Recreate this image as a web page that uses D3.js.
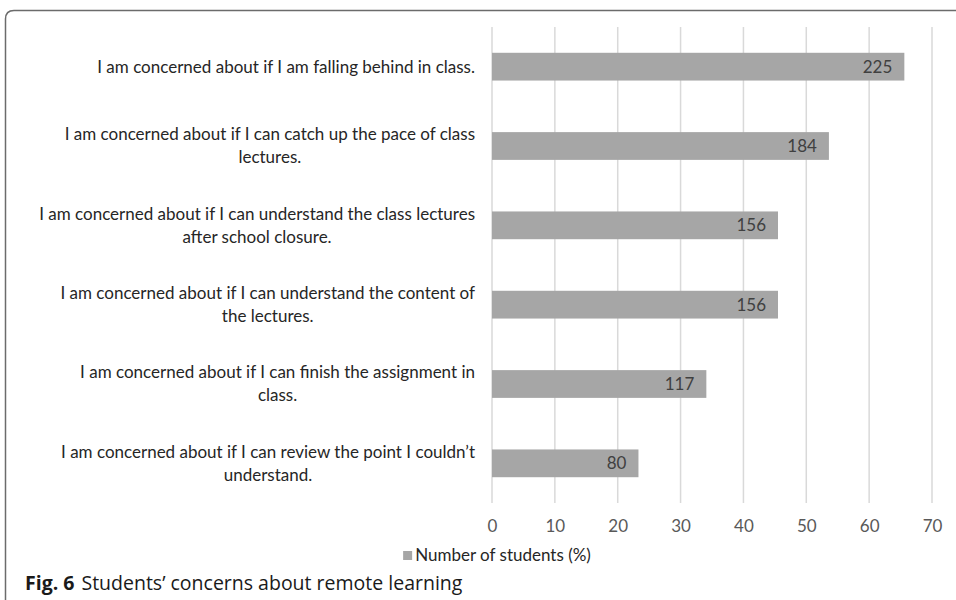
<!DOCTYPE html>
<html>
<head>
<meta charset="utf-8">
<script src="https://cdn.jsdelivr.net/npm/d3@7"></script>
<style>
  body { margin: 0; background: #fff; }
  svg { display: block; }
  .cat, .tick-label, .value-label, .legend-text { font-family: Lato, "Open Sans", sans-serif; }
</style>
</head>
<body>
<div class="chart"></div>
<script>
// wrapped category labels, top to bottom
const categories = [
  ['I am concerned about if I am falling behind in class.'],
  ['I am concerned about if I can catch up the pace of class', 'lectures.'],
  ['I am concerned about if I can understand the class lectures', 'after school closure.'],
  ['I am concerned about if I can understand the content of', 'the lectures.'],
  ['I am concerned about if I can finish the assignment in', 'class.'],
  ['I am concerned about if I can review the point I couldn\u2019t', 'understand.']
];
const counts = [225, 184, 156, 156, 117, 80];
const percents = [65.6, 53.6, 45.5, 45.5, 34.1, 23.3];
const xTicks = [0, 10, 20, 30, 40, 50, 60, 70];
const legendLabel = 'Number of students (%)';
const captionBold = 'Fig. 6';
const captionText = 'Students\u2019 concerns about remote learning';

const width = 956;
const height = 600;
const plot = {left: 492, right: 932, top: 27, bottom: 503};
const fontSize = 17;

const rows = categories.map((lines, i) => ({
  key: lines.join(' '),
  lines: lines,
  count: counts[i],
  pct: percents[i]
}));

const x = d3.scaleLinear()
  .domain([0, 70])
  .range([plot.left, plot.right]);

const y = d3.scaleBand()
  .domain(rows.map(d => d.key))
  .range([plot.top, plot.bottom])
  .paddingInner(0.65)
  .paddingOuter(0.325);

const svg = d3.select('.chart').append('svg')
  .attr('width', width)
  .attr('height', height);

// figure frame (rounded top-left corner)
svg.append('path')
  .attr('d', `M5.5 ${height} V19 Q5.5 10.5 14 10.5 H${width}`)
  .style('fill', 'none')
  .style('stroke', '#6b6b6b')
  .style('stroke-width', 1.5);

// vertical gridlines
svg.append('g')
  .selectAll('line')
  .data(xTicks)
  .enter().append('line')
    .attr('x1', d => x(d))
    .attr('x2', d => x(d))
    .attr('y1', plot.top)
    .attr('y2', plot.bottom)
    .style('stroke', '#d9d9d9')
    .style('stroke-width', 1.5);

// bars
svg.append('g')
  .selectAll('rect')
  .data(rows)
  .enter().append('rect')
    .attr('x', x(0))
    .attr('y', d => y(d.key))
    .attr('width', d => x(d.pct) - x(0))
    .attr('height', y.bandwidth())
    .style('fill', '#a6a6a6');

// value labels inside bar end
svg.append('g')
  .selectAll('text')
  .data(rows)
  .enter().append('text')
    .attr('class', 'value-label')
    .attr('x', d => x(d.pct) - 12)
    .attr('y', d => y(d.key) + y.bandwidth() / 2)
    .attr('dy', '0.36em')
    .attr('text-anchor', 'end')
    .style('font-size', fontSize + 'px')
    .style('fill', '#404040')
    .text(d => d.count);

// x axis tick labels
const xAxis = d3.axisBottom(x)
  .tickValues(xTicks)
  .tickSize(0)
  .tickPadding(0);

const gX = svg.append('g')
  .attr('transform', `translate(0, 520)`)
  .call(xAxis);
gX.select('.domain').remove();
gX.selectAll('text')
  .attr('class', 'tick-label')
  .attr('dy', '0.71em')
  .style('font-size', fontSize + 'px')
  .style('fill', '#595959');

// category labels: block right aligned, lines centred within block
const labelRight = 475;
const lineGap = 23;
const cat = svg.append('g')
  .selectAll('g')
  .data(rows)
  .enter().append('g')
    .attr('class', 'cat');

cat.each(function(d) {
  const g = d3.select(this);
  const cy = y(d.key) + y.bandwidth() / 2;
  const n = d.lines.length;
  const texts = g.selectAll('text')
    .data(d.lines)
    .enter().append('text')
      .attr('y', (t, i) => cy + (i - (n - 1) / 2) * lineGap)
      .attr('dy', '0.35em')
      .attr('text-anchor', 'middle')
      .style('font-size', fontSize + 'px')
      .style('fill', '#262626')
      .text(t => t);
  let maxW = 0;
  texts.each(function() { maxW = Math.max(maxW, this.getComputedTextLength()); });
  texts.attr('x', labelRight - maxW / 2);
});

// legend
const legend = svg.append('g');
legend.append('rect')
  .attr('width', 9)
  .attr('height', 9)
  .style('fill', '#a6a6a6');
const legendText = legend.append('text')
  .attr('class', 'legend-text')
  .attr('x', 12)
  .attr('y', 4.5)
  .attr('dy', '0.35em')
  .style('font-size', fontSize + 'px')
  .style('fill', '#262626')
  .text(legendLabel);
const legendW = 12 + legendText.node().getComputedTextLength();
legend.attr('transform', `translate(${497 - legendW / 2}, 551)`);

// caption
const caption = svg.append('text')
  .attr('x', 25)
  .attr('y', 590)
  .style('font-family', '"Open Sans", sans-serif')
  .style('font-size', '19.5px')
  .style('fill', '#1a1a1a');
caption.append('tspan')
  .style('font-weight', 'bold')
  .text(captionBold);
caption.append('tspan')
  .attr('dx', 7)
  .text(captionText);
</script>
</body>
</html>
